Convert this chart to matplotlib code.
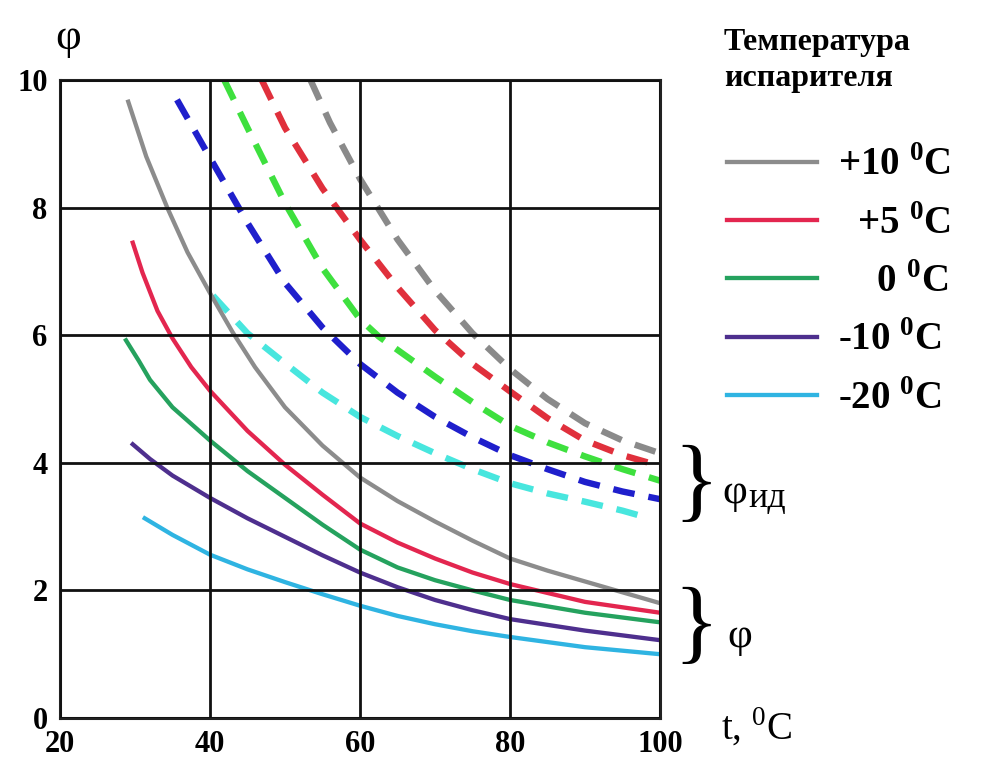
import matplotlib
matplotlib.use("Agg")
import matplotlib.pyplot as plt

plt.rcParams['font.family'] = ['Liberation Serif', 'DejaVu Serif']
plt.rcParams['mathtext.fontset'] = 'custom'
plt.rcParams['mathtext.rm'] = 'Liberation Serif'
plt.rcParams['mathtext.bf'] = 'Liberation Serif:bold'

# solid curves (phi)
g_x = [29.1, 31.5, 34.3, 37, 40, 43, 46, 50, 55, 60, 65, 70, 75, 80, 85, 90, 95, 100]
g_y = [9.66, 8.8, 8.0, 7.3, 6.66, 6.05, 5.5, 4.87, 4.27, 3.77, 3.4, 3.08, 2.78, 2.5, 2.31, 2.14, 1.97, 1.8]
r_x = [29.7, 31, 33, 35, 37.5, 40, 45, 50, 55, 60, 65, 70, 75, 80, 90, 100]
r_y = [7.45, 6.98, 6.38, 5.95, 5.5, 5.13, 4.5, 3.97, 3.5, 3.05, 2.75, 2.5, 2.28, 2.1, 1.82, 1.65]
gr_x = [28.8, 30.5, 32, 35, 40, 45, 50, 55, 60, 65, 70, 75, 80, 90, 100]
gr_y = [5.92, 5.6, 5.3, 4.87, 4.35, 3.87, 3.45, 3.03, 2.64, 2.36, 2.16, 2.0, 1.85, 1.65, 1.5]
p_x = [29.7, 32, 35, 40, 45, 50, 55, 60, 65, 70, 75, 80, 90, 100]
p_y = [4.29, 4.06, 3.8, 3.45, 3.13, 2.84, 2.55, 2.28, 2.05, 1.85, 1.69, 1.55, 1.37, 1.22]
c_x = [31.3, 35, 40, 45, 50, 55, 60, 65, 70, 75, 80, 90, 100]
c_y = [3.13, 2.87, 2.56, 2.33, 2.13, 1.94, 1.76, 1.6, 1.47, 1.36, 1.27, 1.11, 1.0]

# dashed curves (phi_id)
gd_x = [53.4, 56, 60, 65, 70, 75, 80, 85, 90, 95, 100]
gd_y = [10, 9.33, 8.45, 7.5, 6.7, 6.03, 5.47, 5.0, 4.62, 4.35, 4.15]
rd_x = [46.9, 50, 55, 60, 65, 70, 75, 80, 85, 90, 95, 100]
rd_y = [10, 9.25, 8.3, 7.5, 6.75, 6.08, 5.55, 5.12, 4.7, 4.35, 4.12, 3.95]
grd_x = [41.9, 45, 50, 55, 60, 62.5, 65, 70, 75, 80, 85, 90, 95, 100]
grd_y = [10, 9.25, 8.07, 7.05, 6.25, 5.98, 5.77, 5.35, 4.95, 4.58, 4.32, 4.1, 3.9, 3.72]
bd_x = [35.6, 40, 45, 50, 55, 60, 65, 70, 75, 80, 85, 90, 95, 100]
bd_y = [9.69, 8.78, 7.76, 6.82, 6.12, 5.55, 5.1, 4.72, 4.4, 4.12, 3.9, 3.7, 3.55, 3.43]
cd_x = [40.4, 45, 50, 55, 60, 65, 70, 75, 80, 85, 90, 95, 98]
cd_y = [6.62, 6.03, 5.56, 5.1, 4.72, 4.42, 4.15, 3.9, 3.68, 3.52, 3.39, 3.25, 3.15]

labels = ['+10 $^{\\mathbf{0}}$C', '  +5 $^{\\mathbf{0}}$C', '    0 $^{\\mathbf{0}}$C',
          '-10 $^{\\mathbf{0}}$C', '-20 $^{\\mathbf{0}}$C']
x_ticks = [20, 40, 60, 80, 100]
y_ticks = [0, 2, 4, 6, 8, 10]

fig = plt.figure(figsize=(9.85, 7.58), dpi=100)
ax = fig.add_axes([60/985, 40/758, 600/985, 638/758])

solid_w = 3.1
dash_w = 4.6
dash = (3.4, 2.2)

ax.plot(gd_x, gd_y, color='#8a8a8a', lw=dash_w, ls=(0, dash))
ax.plot(rd_x, rd_y, color='#e0303c', lw=dash_w, ls=(0, dash))
ax.plot(grd_x, grd_y, color='#3ee03e', lw=dash_w, ls=(0, dash))
ax.plot(bd_x, bd_y, color='#1f1fcc', lw=dash_w, ls=(0, dash))
ax.plot(cd_x, cd_y, color='#48e6de', lw=dash_w, ls=(0, dash))

ax.plot(g_x, g_y, color='#8c8c8c', lw=solid_w, label=labels[0])
ax.plot(r_x, r_y, color='#e3264f', lw=solid_w, label=labels[1])
ax.plot(gr_x, gr_y, color='#25a25e', lw=solid_w, label=labels[2])
ax.plot(p_x, p_y, color='#4e2f8e', lw=solid_w, label=labels[3])
ax.plot(c_x, c_y, color='#2fb4e2', lw=solid_w, label=labels[4])

ax.set_xlim(20, 100)
ax.set_ylim(0, 10)
ax.set_xticks(x_ticks)
ax.set_yticks(y_ticks)
ax.grid(True, color='#111111', lw=2.0)
ax.set_axisbelow(False)
for s in ax.spines.values():
    s.set_linewidth(2.2)
    s.set_color('#222222')
ax.tick_params(length=0, labelsize=22, pad=9)
for t in ax.get_xticklabels() + ax.get_yticklabels():
    t.set_fontweight('bold')

fig.text(55/985, 1 - 38/758, 'φ', fontsize=32, va='center', ha='left')
fig.text(724/985, 1 - 28/758, 'Температура\nиспарителя', fontsize=23,
         fontweight='bold', va='top', ha='left', linespacing=1.3)
fig.legend(loc='upper left', bbox_to_anchor=(700/985, 1 - 120/758), frameon=False,
           prop={'size': 28, 'weight': 'bold'}, handlelength=2.3,
           handletextpad=0.55, labelspacing=0.55, borderpad=0.2)

fig.text(719/985, 1 - 487/758, '}', fontsize=68, va='center', ha='right')
fig.text(719/985, 1 - 630/758, '}', fontsize=68, va='center', ha='right')
fig.text(722/985, 1 - 493/758, 'φ', fontsize=31, va='center', ha='left')
fig.text(748/985, 1 - 498/758, 'ид', fontsize=26, va='center', ha='left')
fig.text(727/985, 1 - 637/758, 'φ', fontsize=31, va='center', ha='left')
fig.text(721/985, 1 - 727/758, 't, $^{0}$C', fontsize=28, va='center', ha='left')

fig.savefig('out.png', dpi=100)
